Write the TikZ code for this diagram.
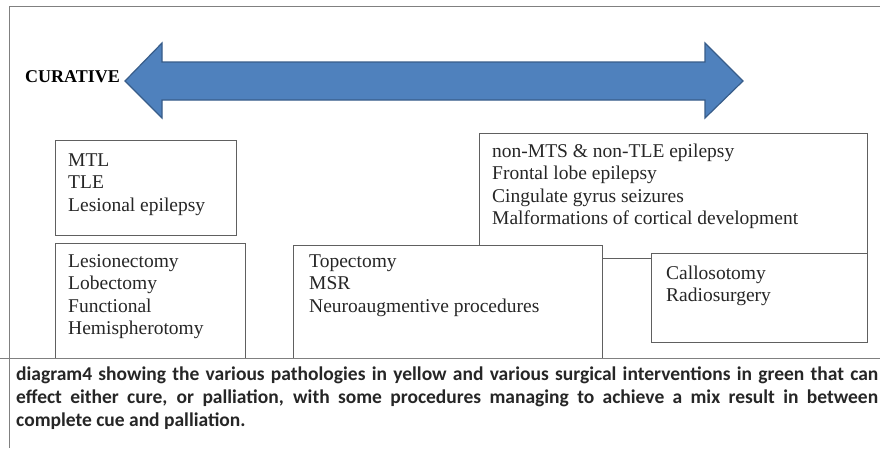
\documentclass[tikz,border=0pt]{standalone}
\usepackage{fontspec}
\setmainfont{Liberation Serif}
\newfontfamily\capfont{Carlito}
\hbadness=10000
\definecolor{arrowfill}{HTML}{4F81BD}
\definecolor{arrowline}{HTML}{385D8A}
\definecolor{boxline}{HTML}{606060}
\definecolor{frameline}{HTML}{808080}
\tikzset{
  boxnode/.style={draw=boxline, line width=1pt, fill=white, rectangle, inner sep=0pt, anchor=north west},
  txt/.style={anchor=base west, inner sep=0pt, font=\fontsize{19.5}{22.5}\selectfont, text=black!85},
}
\begin{document}
\begin{tikzpicture}[x=1pt,y=-1pt]
\useasboundingbox (0,0) rectangle (880,448);
\fill[white] (0,0) rectangle (880,448);
% outer frame
\coordinate (fa) at (9,448);
\coordinate (fb) at (9,6);
\coordinate (fc) at (880,6);
\draw[frameline, line width=1pt] (fa) -- (fb) -- (fc);
% double arrow
\filldraw[fill=arrowfill, draw=arrowline, line width=1.2pt, line join=miter]
  (125,81) -- (162,43) -- (162,62) -- (705,62) -- (705,43) -- (743,81)
  -- (705,118) -- (705,100) -- (162,100) -- (162,118) -- cycle;
\node[anchor=base west, inner sep=0pt, font=\fontsize{18}{20}\selectfont\bfseries] (cur) at (25,82) {CURATIVE};
% boxes
\node[boxnode, minimum width=181pt, minimum height=95pt] (b1) at (55,140) {};
\node[boxnode, minimum width=388pt, minimum height=125pt] (b4) at (479,133) {};
\node[boxnode, minimum width=190pt, minimum height=115pt] (b2) at (55,243) {};
\node[boxnode, minimum width=309pt, minimum height=113pt] (b3) at (293,245) {};
\node[boxnode, minimum width=216pt, minimum height=89pt] (b5) at (651,253) {};
% texts
\node[txt] (t1) at (68,166) {\parbox[t]{160pt}{MTL\\TLE\\Lesional epilepsy}};
\node[txt] (t2) at (68,267) {\parbox[t]{170pt}{Lesionectomy\\Lobectomy\\Functional\\Hemispherotomy}};
\node[txt] (t3) at (309,267) {\parbox[t]{285pt}{Topectomy\\MSR\\Neuroaugmentive procedures}};
\node[txt] (t4) at (492,157) {\parbox[t]{370pt}{non-MTS \& non-TLE epilepsy\\Frontal lobe epilepsy\\Cingulate gyrus seizures\\Malformations of cortical development}};
\node[txt] (t5) at (666,279) {\parbox[t]{195pt}{Callosotomy\\Radiosurgery}};
% caption
\coordinate (ca) at (0,358);
\coordinate (cb) at (880,358);
\draw[frameline, line width=1pt] (ca) -- (cb);
\node[anchor=base west, inner sep=0pt, font=\capfont\bfseries\fontsize{19.5}{23}\selectfont, text=black!85] (cap) at (16,380)
 {\parbox[t]{862pt}{diagram4 showing the various pathologies in yellow and various surgical interventions in green that can\linebreak effect either cure, or palliation, with some procedures managing to achieve a mix result in between\linebreak complete cue and palliation.}};
\end{tikzpicture}
\end{document}
